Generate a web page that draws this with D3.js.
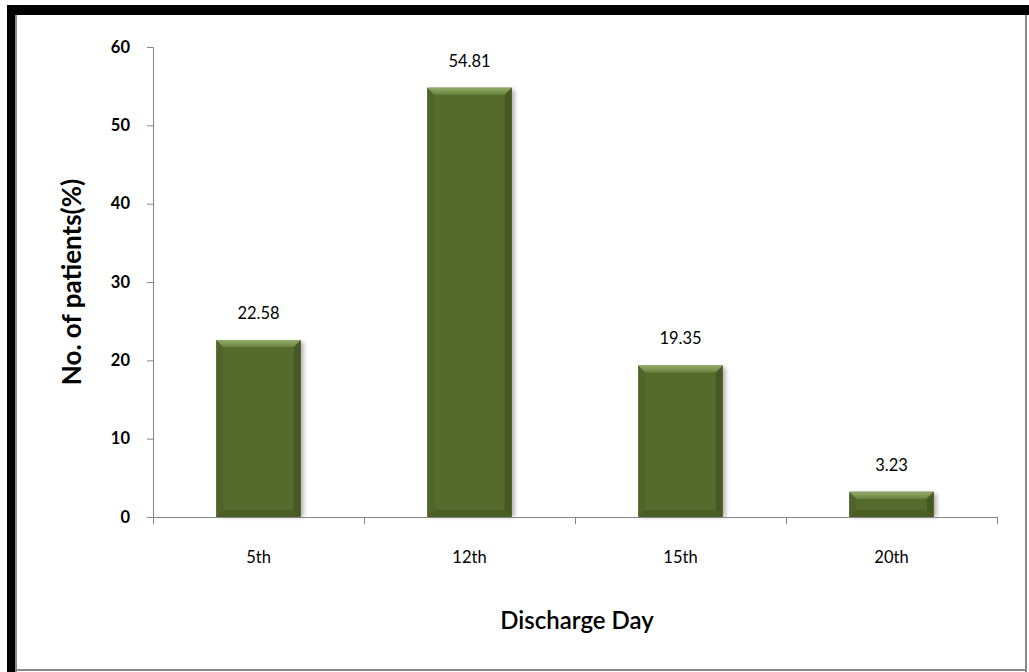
<!DOCTYPE html>
<html>
<head>
<meta charset="utf-8">
<script src="https://cdn.jsdelivr.net/npm/d3@7"></script>
<style>
  html, body { margin: 0; padding: 0; background: #fff; }
  svg { display: block; }
  text { font-family: Lato, "Open Sans", "DejaVu Sans", sans-serif; fill: #000; }
</style>
</head>
<body>
<svg id="chart" width="1029" height="672"></svg>
<script>
// Share of patients by day of discharge
const categories = ["5th", "12th", "15th", "20th"];
const values = [22.58, 54.81, 19.35, 3.23];
const yTicks = [0, 10, 20, 30, 40, 50, 60];
const yTitle = "No. of patients(%)";
const xTitle = "Discharge Day";

const W = 1029, H = 672;
const svg = d3.select("#chart");

// frame: heavy black top/left edge, thin grey right/bottom edge
svg.append("rect").attr("x", 0).attr("y", 0).attr("width", W).attr("height", H).attr("fill", "#fff");
svg.append("rect").attr("x", 7).attr("y", 5).attr("width", W - 7).attr("height", 10).attr("fill", "#000");
svg.append("rect").attr("x", 7).attr("y", 5).attr("width", 8).attr("height", H - 5).attr("fill", "#000");
svg.append("rect").attr("x", 15).attr("y", 15).attr("width", 2).attr("height", H - 15).attr("fill", "#8a8a8a");
svg.append("rect").attr("x", 1025).attr("y", 15).attr("width", 2).attr("height", H - 15).attr("fill", "#8a8a8a");
svg.append("rect").attr("x", 15).attr("y", 669).attr("width", 1012).attr("height", 2).attr("fill", "#8a8a8a");

const plot = { left: 153, right: 997, top: 47, bottom: 517 };

const x = d3.scaleBand().domain(categories).range([plot.left, plot.right]).paddingInner(0.6).paddingOuter(0.3);
const xOuter = d3.scaleBand().domain(categories).range([plot.left, plot.right]);
const y = d3.scaleLinear().domain([0, 60]).range([plot.bottom, plot.top]);

const defs = svg.append("defs");
const shadow = defs.append("filter").attr("id", "shadow").attr("x", "-20%").attr("y", "-20%").attr("width", "150%").attr("height", "140%");
shadow.append("feGaussianBlur").attr("stdDeviation", 2);

const topGrad = defs.append("linearGradient").attr("id", "topGrad").attr("x1", 0).attr("y1", 0).attr("x2", 0).attr("y2", 1);
topGrad.append("stop").attr("offset", 0).attr("stop-color", "#93ab68");
topGrad.append("stop").attr("offset", 1).attr("stop-color", "#6b8540");

const g = svg.append("g");

// bars with bevelled edges
const bw = x.bandwidth();
const bev = 7;
const bars = g.selectAll("g.bar").data(values).join("g").attr("class", "bar");

bars.append("rect")
  .attr("x", (d, i) => x(categories[i]) + 3)
  .attr("y", d => y(d) + 2)
  .attr("width", bw)
  .attr("height", d => plot.bottom - y(d) - 2)
  .attr("fill", "#000").attr("opacity", 0.3)
  .attr("filter", "url(#shadow)");

bars.append("rect")
  .attr("x", (d, i) => x(categories[i]))
  .attr("y", d => y(d))
  .attr("width", bw)
  .attr("height", d => plot.bottom - y(d))
  .attr("fill", "#566a2e");

bars.each(function (d, i) {
  const x0 = x(categories[i]), x1 = x0 + bw, y0 = y(d), y1 = plot.bottom;
  const b = Math.min(bev, (y1 - y0) / 2);
  const sel = d3.select(this);
  const poly = (pts, fill) => sel.append("polygon").attr("points", pts.map(p => p.join(",")).join(" ")).attr("fill", fill);
  // left edge
  poly([[x0, y0], [x0 + b, y0 + b], [x0 + b, y1 - b], [x0, y1]], "#50642a");
  // right edge
  poly([[x1, y0], [x1 - b, y0 + b], [x1 - b, y1 - b], [x1, y1]], "#465922");
  // bottom edge
  poly([[x0, y1], [x0 + b, y1 - b], [x1 - b, y1 - b], [x1, y1]], "#4a5d25");
  // top highlight
  poly([[x0, y0], [x1, y0], [x1 - b, y0 + b], [x0 + b, y0 + b]], "url(#topGrad)");
});

// value labels
g.selectAll("text.val").data(values).join("text")
  .attr("class", "val")
  .attr("x", (d, i) => x(categories[i]) + bw / 2)
  .attr("y", d => y(d) - 21)
  .attr("text-anchor", "middle")
  .style("font-size", "16.5px")
  .text(d => d.toFixed(2));

// y axis
const yAxis = d3.axisLeft(y).tickValues(yTicks).tickSize(6).tickPadding(17);
const ya = svg.append("g").attr("transform", `translate(${plot.left},0)`).call(yAxis);
ya.select(".domain").attr("stroke", "#868686");
ya.selectAll(".tick line").attr("stroke", "#868686");
ya.selectAll(".tick text").style("font-size", "16.5px").style("font-weight", "bold").attr("fill", "#000");

// x axis with boundary ticks between categories
const xa = svg.append("g").attr("transform", `translate(0,${plot.bottom})`);
xa.append("line").attr("x1", plot.left).attr("x2", plot.right).attr("y1", 0.5).attr("y2", 0.5).attr("stroke", "#868686");
const bounds = categories.map(c => xOuter(c)).concat([plot.right]);
xa.selectAll("line.tk").data(bounds).join("line").attr("class", "tk")
  .attr("x1", d => Math.round(d) + 0.5).attr("x2", d => Math.round(d) + 0.5)
  .attr("y1", 0).attr("y2", 7).attr("stroke", "#868686");
xa.selectAll("text.cat").data(categories).join("text").attr("class", "cat")
  .attr("x", d => xOuter(d) + xOuter.bandwidth() / 2)
  .attr("y", 46)
  .attr("text-anchor", "middle")
  .style("font-size", "16.5px")
  .text(d => d);

// axis titles
svg.append("text")
  .attr("transform", `translate(81,${(plot.top + plot.bottom) / 2}) rotate(-90)`)
  .attr("text-anchor", "middle")
  .style("font-size", "26px").style("font-weight", "bold")
  .text(yTitle);

svg.append("text")
  .attr("x", (plot.left + plot.right) / 2 + 2)
  .attr("y", 629)
  .attr("text-anchor", "middle")
  .style("font-size", "24px").style("font-weight", "600")
  .text(xTitle);
</script>
</body>
</html>
